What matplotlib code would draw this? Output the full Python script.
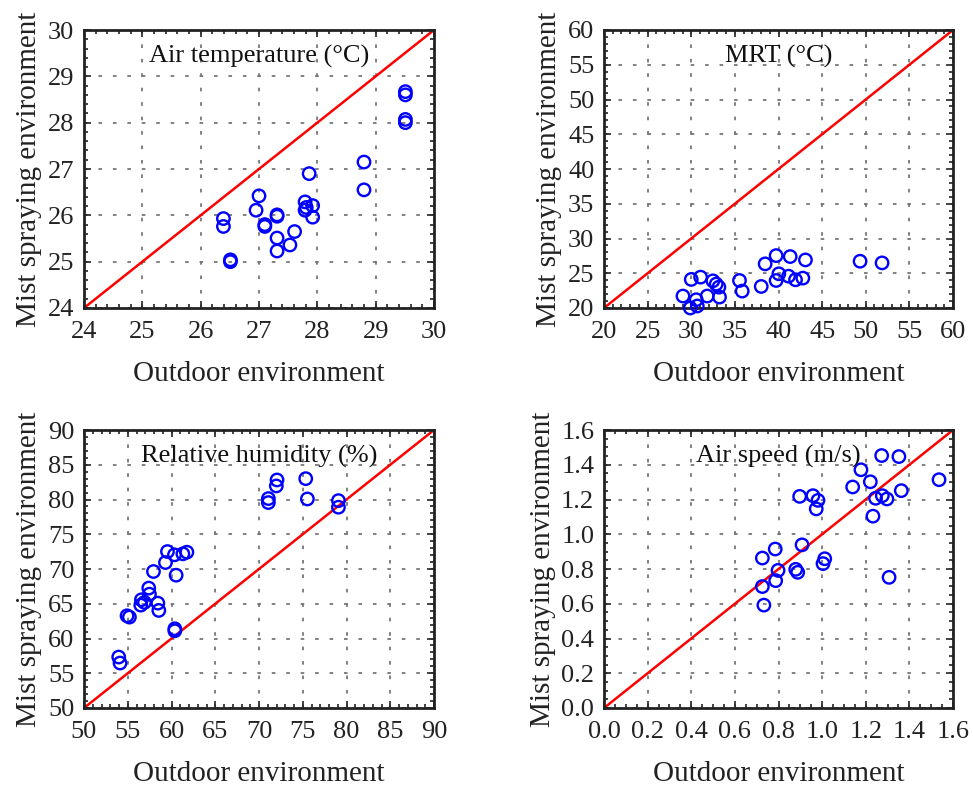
import matplotlib
matplotlib.use("Agg")
import matplotlib.pyplot as plt
from matplotlib.ticker import MultipleLocator, AutoMinorLocator, FormatStrFormatter

plt.rcParams['font.family'] = ['Liberation Serif', 'DejaVu Serif']
plt.rcParams['mathtext.fontset'] = 'stix'

# Air temperature (°C)
ta_out = [29.51, 29.51, 29.51, 29.51, 28.80, 28.80, 27.86, 27.00, 26.95, 26.39, 26.39,
          26.51, 26.51, 27.10, 27.10, 27.31, 27.31, 27.31, 27.31, 27.53, 27.61, 27.79,
          27.79, 27.81, 27.92, 27.92]
ta_mist = [28.67, 28.60, 28.07, 28.00, 27.15, 26.55, 26.90, 26.42, 26.11, 25.93, 25.76,
           25.04, 25.00, 25.80, 25.76, 26.01, 25.98, 25.51, 25.23, 25.36, 25.65, 26.29,
           26.11, 26.17, 26.21, 25.96]

# MRT (°C)
mrt_out = [49.35, 51.87, 39.73, 41.34, 43.09, 38.47, 40.04, 39.73, 41.15, 41.95, 42.79,
           38.02, 35.53, 35.84, 30.00, 31.07, 32.48, 32.86, 33.17, 33.24, 31.83, 29.05,
           30.57, 30.69, 29.89]
mrt_mist = [26.73, 26.49, 27.54, 27.40, 26.92, 26.35, 24.92, 23.96, 24.58, 24.06, 24.30,
            23.10, 23.96, 22.43, 24.11, 24.44, 23.91, 23.44, 23.00, 21.57, 21.72, 21.72,
            21.19, 20.29, 20.00]

# Relative humidity (%)
rh_out = [53.97, 54.12, 54.92, 55.19, 56.49, 56.56, 56.91, 57.40, 57.48, 58.44, 58.55,
          57.94, 59.31, 59.54, 60.34, 60.53, 60.38, 60.38, 61.30, 61.76, 71.07, 71.07,
          71.98, 72.06, 75.34, 75.53, 79.08, 79.08]
rh_mist = [57.33, 56.47, 63.27, 63.08, 64.80, 65.57, 65.19, 67.25, 66.38, 65.09, 64.04,
           69.64, 70.93, 72.51, 72.04, 69.11, 61.40, 61.11, 72.18, 72.42, 80.13, 79.56,
           81.95, 82.81, 83.00, 80.08, 79.84, 78.89]

# Air speed (m/s)
va_out = [0.726, 0.726, 0.733, 0.785, 0.787, 0.798, 0.879, 0.888, 0.908, 0.897, 0.958,
          0.981, 0.973, 1.004, 1.012, 1.140, 1.178, 1.221, 1.233, 1.245, 1.273, 1.276,
          1.297, 1.307, 1.352, 1.363, 1.536]
va_mist = [0.863, 0.699, 0.592, 0.915, 0.733, 0.792, 0.798, 0.781, 0.939, 1.218, 1.222,
           1.195, 1.146, 0.831, 0.859, 1.272, 1.371, 1.302, 1.104, 1.207, 1.453, 1.222,
           1.203, 0.752, 1.447, 1.251, 1.314]

panels = [
    (ta_out, ta_mist, (24, 30), 1, "Air temperature (°C)", "%d"),
    (mrt_out, mrt_mist, (20, 60), 5, "MRT (°C)", "%d"),
    (rh_out, rh_mist, (50, 90), 5, "Relative humidity (%)", "%d"),
    (va_out, va_mist, (0, 1.6), 0.2, "Air speed (m/s)", "%.1f"),
]

fig = plt.figure(figsize=(9.73, 7.87), dpi=100)
W, H = 973, 787
boxes = [(84, 30, 434, 308), (604, 30, 953, 308), (84, 430, 434, 708), (604, 430, 953, 708)]

for (xo, ym, lim, step, title, fmt), (l, t, r, b) in zip(panels, boxes):
    ax = fig.add_axes([l / W, 1 - b / H, (r - l) / W, (b - t) / H])
    ax.plot(lim, lim, color='red', lw=1.8, zorder=2)
    ax.scatter(xo, ym, s=80, facecolors='none', edgecolors='blue', linewidths=1.7, zorder=3,
               clip_on=False)
    ax.set_xlim(lim)
    ax.set_ylim(lim)
    ax.xaxis.set_major_locator(MultipleLocator(step))
    ax.yaxis.set_major_locator(MultipleLocator(step))
    ax.xaxis.set_minor_locator(AutoMinorLocator())
    ax.yaxis.set_minor_locator(AutoMinorLocator())
    ax.xaxis.set_major_formatter(FormatStrFormatter(fmt))
    ax.yaxis.set_major_formatter(FormatStrFormatter(fmt))
    ax.tick_params(which='both', direction='in', top=True, right=True, labelsize=19,
                   color='#222222', width=1.2, labelcolor='#222222')
    ax.tick_params(which='major', length=5)
    ax.tick_params(axis='x', which='major', pad=9)
    ax.tick_params(axis='y', which='major', pad=7)
    ax.tick_params(which='minor', length=3)
    ax.grid(True, which='major', color='#777777', linestyle=(0, (2, 6)), linewidth=1.3)
    for sp in ax.spines.values():
        sp.set_linewidth(2.0)
        sp.set_color('#222222')
    ax.set_xlabel("Outdoor environment", fontsize=21, labelpad=13, color='#222222')
    ax.set_ylabel("Mist spraying environment", fontsize=21, labelpad=4, color='#222222')
    ax.text(0.5, 0.905, title, transform=ax.transAxes, ha='center', va='center',
            fontsize=19, color='#111111')

fig.savefig("out.png", dpi=100)
